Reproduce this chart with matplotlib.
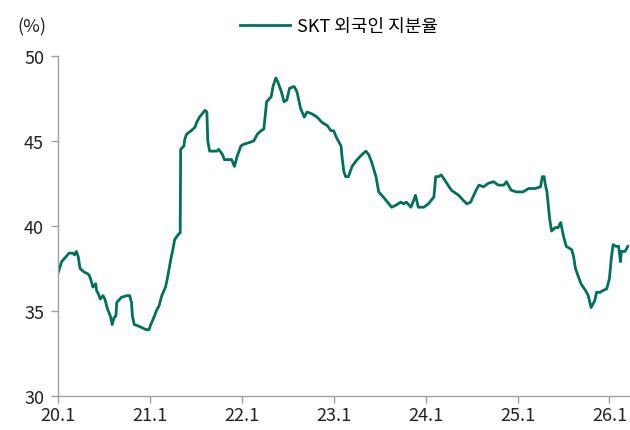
import matplotlib
matplotlib.use("Agg")
from matplotlib import pyplot as plt

plt.rcParams['font.family'] = ['Noto Sans CJK KR', 'DejaVu Sans']

# 연도(소수) / 외국인 지분율(%)
t = [2020.00, 2020.04, 2020.09, 2020.12, 2020.16, 2020.18, 2020.20, 2020.22, 2020.24, 2020.28,
     2020.32, 2020.34, 2020.36, 2020.38, 2020.41, 2020.42, 2020.44, 2020.46, 2020.49, 2020.51,
     2020.54, 2020.57, 2020.59, 2020.61, 2020.63, 2020.64, 2020.69, 2020.75, 2020.78, 2020.80,
     2020.81, 2020.83, 2020.88, 2020.92, 2020.96, 2020.99, 2021.01, 2021.05, 2021.07, 2021.10,
     2021.13, 2021.17, 2021.19, 2021.21, 2021.23, 2021.25, 2021.27, 2021.31, 2021.33, 2021.335,
     2021.37, 2021.38, 2021.40, 2021.45, 2021.49, 2021.51, 2021.54, 2021.57, 2021.60, 2021.62,
     2021.63, 2021.65, 2021.69, 2021.73, 2021.75, 2021.79, 2021.81, 2021.86, 2021.89, 2021.92,
     2021.95, 2021.99, 2022.02, 2022.08, 2022.13, 2022.17, 2022.21, 2022.24, 2022.27, 2022.32,
     2022.34, 2022.37, 2022.39, 2022.43, 2022.46, 2022.49, 2022.52, 2022.57, 2022.60, 2022.64,
     2022.68, 2022.71, 2022.76, 2022.82, 2022.87, 2022.93, 2022.97, 2023.00, 2023.03, 2023.08,
     2023.09, 2023.11, 2023.13, 2023.16, 2023.20, 2023.24, 2023.29, 2023.35, 2023.38, 2023.41,
     2023.46, 2023.49, 2023.54, 2023.60, 2023.63, 2023.67, 2023.73, 2023.76, 2023.79, 2023.84,
     2023.87, 2023.89, 2023.92, 2023.98, 2024.03, 2024.09, 2024.11, 2024.14, 2024.17, 2024.22,
     2024.28, 2024.36, 2024.41, 2024.45, 2024.49, 2024.54, 2024.58, 2024.63, 2024.68, 2024.74,
     2024.79, 2024.85, 2024.88, 2024.93, 2024.99, 2025.06, 2025.12, 2025.19, 2025.25, 2025.27,
     2025.29, 2025.30, 2025.32, 2025.35, 2025.37, 2025.41, 2025.44, 2025.47, 2025.50, 2025.53,
     2025.59, 2025.61, 2025.63, 2025.67, 2025.69, 2025.74, 2025.77, 2025.80, 2025.84, 2025.86,
     2025.90, 2025.93, 2025.97, 2026.00, 2026.02, 2026.04, 2026.07, 2026.10, 2026.12, 2026.13,
     2026.17, 2026.20]
share = [37.2, 37.9, 38.2, 38.4, 38.4, 38.3, 38.5, 38.2, 37.5, 37.3,
         37.2, 37.1, 36.8, 36.4, 36.6, 36.2, 36.0, 35.7, 35.9, 35.7,
         35.1, 34.7, 34.2, 34.6, 34.7, 35.5, 35.8, 35.9, 35.9, 35.5,
         34.7, 34.2, 34.1, 34.0, 33.9, 33.9, 34.2, 34.7, 35.0, 35.3,
         35.9, 36.4, 36.9, 37.5, 38.1, 38.6, 39.2, 39.5, 39.6, 44.5,
         44.7, 45.1, 45.4, 45.6, 45.8, 46.1, 46.4, 46.6, 46.8, 46.7,
         45.0, 44.4, 44.4, 44.4, 44.5, 44.2, 43.9, 43.9, 43.9, 43.5,
         44.1, 44.7, 44.8, 44.9, 45.0, 45.4, 45.6, 45.7, 47.3, 47.6,
         48.2, 48.7, 48.5, 47.9, 47.3, 47.4, 48.1, 48.2, 47.9, 46.9,
         46.4, 46.7, 46.6, 46.4, 46.1, 45.9, 45.6, 45.6, 45.2, 44.7,
         44.1, 43.2, 42.9, 42.9, 43.5, 43.8, 44.1, 44.4, 44.2, 43.8,
         42.9, 42.0, 41.7, 41.3, 41.1, 41.2, 41.4, 41.3, 41.4, 41.1,
         41.5, 41.8, 41.1, 41.1, 41.3, 41.7, 42.9, 42.9, 43.0, 42.6,
         42.1, 41.8, 41.5, 41.3, 41.4, 42.0, 42.4, 42.3, 42.5, 42.6,
         42.4, 42.4, 42.6, 42.1, 42.0, 42.0, 42.2, 42.2, 42.3, 42.9,
         42.9, 42.5, 42.0, 40.4, 39.7, 39.9, 39.9, 40.2, 39.4, 38.8,
         38.6, 38.2, 37.5, 36.9, 36.6, 36.2, 35.9, 35.2, 35.6, 36.1,
         36.1, 36.2, 36.3, 36.9, 38.1, 38.9, 38.8, 38.8, 37.9, 38.5,
         38.5, 38.8]

tick_pos = [2020, 2021, 2022, 2023, 2024, 2025, 2026]
tick_lbl = ['20.1', '21.1', '22.1', '23.1', '24.1', '25.1', '26.1']

fig = plt.figure(figsize=(6.3, 4.31), dpi=100)
ax = fig.add_axes([0.092, 0.079, 0.906, 0.789])

ax.plot(t, share, color='#00705f', lw=2.0, label='SKT 외국인 지분율')

ax.set_xlim(2020, 2026.21)
ax.set_ylim(30, 50)
ax.set_yticks([30, 35, 40, 45, 50])
ax.set_xticks(tick_pos)
ax.set_xticklabels(tick_lbl)

for s in ['top', 'right']:
    ax.spines[s].set_visible(False)
for s in ['left', 'bottom']:
    ax.spines[s].set_color('#a0a0a0')
    ax.spines[s].set_linewidth(1.0)
ax.tick_params(axis='both', colors='#a0a0a0', labelcolor='#222222',
               labelsize=13, length=5, width=1.0)
ax.tick_params(axis='x', pad=2)
ax.tick_params(axis='y', pad=5)

fig.text(17 / 630, 1 - 27 / 431, '(%)', fontsize=13, color='#222222', va='center')
fig.legend(loc='center', bbox_to_anchor=(339 / 630, 1 - 27 / 431), frameon=False,
           fontsize=13, handlelength=2.8, handletextpad=0.4)

fig.savefig('out.png', dpi=100)
